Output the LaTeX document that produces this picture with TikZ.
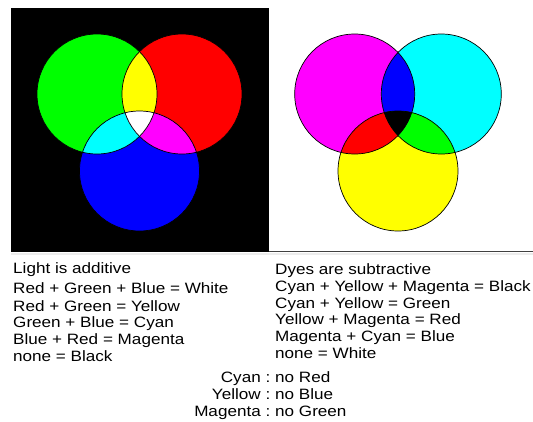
\documentclass[tikz,border=0pt]{standalone}
\usepackage{fontspec}
\setmainfont[FakeStretch=1.14]{Liberation Sans}
\usepackage{tikz}
\usepackage{xcolor}
\definecolor{lightRed}{RGB}{255,0,0}
\definecolor{lightGreen}{RGB}{0,255,0}
\definecolor{lightBlue}{RGB}{0,0,255}
\definecolor{dyeCyan}{RGB}{0,255,255}
\definecolor{dyeMagenta}{RGB}{255,0,255}
\definecolor{dyeYellow}{RGB}{255,255,0}

\begin{document}
\begin{tikzpicture}[x=1pt,y=-1pt,
  txt/.style={anchor=base west,inner sep=0pt,font=\fontsize{15}{17}\selectfont},
  rim/.style={draw=black,line width=0.7pt}]
\useasboundingbox[fill=white] (0,0) rectangle (533,421);
% additive panel
\fill[black] (11,8) rectangle (268.5,251.5);
\coordinate (G) at (97,94);
\coordinate (R) at (182,94);
\coordinate (B) at (139.5,171);
\fill[lightGreen] (G) circle[radius=60pt];
\fill[lightRed] (R) circle[radius=60pt];
\fill[lightBlue] (B) circle[radius=60pt];
\begin{scope}
\clip (G) circle[radius=60pt];
\fill[dyeYellow] (R) circle[radius=60pt];
\fill[dyeCyan] (B) circle[radius=60pt];
\clip (R) circle[radius=60pt];
\fill[white] (B) circle[radius=60pt];
\end{scope}
\begin{scope}
\clip (R) circle[radius=60pt];
\clip (B) circle[radius=60pt];
\fill[dyeMagenta] (G) ++(-200,-200) rectangle ++(400,400);
\clip (G) circle[radius=60pt];
\fill[white] (G) ++(-200,-200) rectangle ++(400,400);
\end{scope}
\draw[rim] (G) circle[radius=60pt];
\draw[rim] (R) circle[radius=60pt];
\draw[rim] (B) circle[radius=60pt];
% subtractive panel
\coordinate (M) at (354.7,94);
\coordinate (C) at (441.3,94);
\coordinate (Y) at (398,171);
\fill[dyeMagenta] (M) circle[radius=60pt];
\fill[dyeCyan] (C) circle[radius=60pt];
\fill[dyeYellow] (Y) circle[radius=60pt];
\begin{scope}
\clip (M) circle[radius=60pt];
\fill[lightBlue] (C) circle[radius=60pt];
\fill[lightRed] (Y) circle[radius=60pt];
\clip (C) circle[radius=60pt];
\fill[black] (Y) circle[radius=60pt];
\end{scope}
\begin{scope}
\clip (C) circle[radius=60pt];
\clip (Y) circle[radius=60pt];
\fill[lightGreen] (C) ++(-200,-200) rectangle ++(400,400);
\clip (M) circle[radius=60pt];
\fill[black] (C) ++(-200,-200) rectangle ++(400,400);
\end{scope}
\draw[rim] (M) circle[radius=60pt];
\draw[rim] (C) circle[radius=60pt];
\draw[rim] (Y) circle[radius=60pt];
% rule under the panels
\draw[gray!15,line width=2pt] (11,253.5) -- (533,253.5);
\draw[gray!50!black,line width=1pt] (268.5,251.5) -- (533,251.5);
% texts
\node[txt] (addTitle) at (13,273) {Light is additive};
\node[txt] (addRGB) at (13,293.5) {Red + Green + Blue = White};
\node[txt] (addRG) at (13,311) {Red + Green = Yellow};
\node[txt] (addGB) at (13,327.5) {Green + Blue = Cyan};
\node[txt] (addBR) at (13,344.5) {Blue + Red = Magenta};
\node[txt] (addNone) at (13,361.5) {none = Black};
\node[txt] (subTitle) at (275,274) {Dyes are subtractive};
\node[txt] (subCYM) at (275,291) {Cyan + Yellow + Magenta = Black};
\node[txt] (subCY) at (275,308) {Cyan + Yellow = Green};
\node[txt] (subYM) at (275,324.5) {Yellow + Magenta = Red};
\node[txt] (subMC) at (275,341) {Magenta + Cyan = Blue};
\node[txt] (subNone) at (275,358) {none = White};
\node[txt,anchor=base east] (inkC) at (270.5,382) {Cyan :};
\node[txt] (inkCno) at (275,382) {no Red};
\node[txt,anchor=base east] (inkY) at (270.5,399) {Yellow :};
\node[txt] (inkYno) at (275,399) {no Blue};
\node[txt,anchor=base east] (inkM) at (270.5,416) {Magenta :};
\node[txt] (inkMno) at (275,416) {no Green};
\end{tikzpicture}
\end{document}
